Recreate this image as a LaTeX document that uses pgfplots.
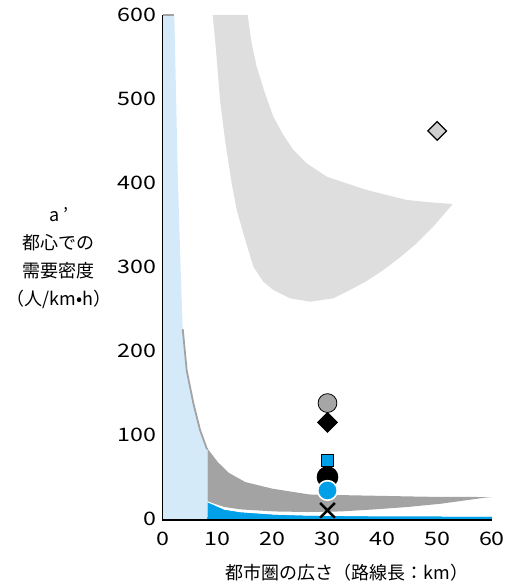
\documentclass[border=0pt]{standalone}
\usepackage{fontspec}
\setmainfont{Noto Sans CJK JP}
\newfontfamily\tickfont[FakeStretch=1.25]{Noto Sans CJK JP}
\usepackage{pgfplots}
\pgfplotsset{compat=1.18}
\definecolor{lblue}{HTML}{D4EAF9}
\definecolor{cyanb}{HTML}{00A0E9}
\definecolor{dgray}{HTML}{A3A3A3}
\definecolor{lgray}{HTML}{DEDEDE}
\definecolor{mgray}{HTML}{A6A6A6}
\definecolor{dfill}{HTML}{D0D0D0}
\begin{document}
\begin{tikzpicture}
\begin{axis}[
  at={(0pt,0pt)}, anchor=south west,
  scale only axis, width=164.5pt, height=252pt,
  xmin=0, xmax=60, ymin=0, ymax=600,
  axis x line*=bottom, axis y line*=left,
  x axis line style={line width=2pt, shorten <=-0.7pt},
  y axis line style={line width=1.4pt},
  xtick={0,10,...,60}, ytick={0,100,...,600},
  tick align=inside, major tick length=3pt,
  x tick style={draw=none},
  y tick style={black, line width=1pt},
  tick label style={font=\tickfont\fontsize{9.3}{10}\selectfont},
  xticklabel style={yshift=-3pt},
  /pgf/number format/assume math mode=true,
  clip=false,
]
% light gray upper region
\addplot[fill=lgray, draw=none] coordinates {
 (9.06,600) (9.67,558.3) (10.40,498.8) (11.31,451.2) (12.52,399.6) (13.44,367.9)
 (14.65,340.1) (16.47,300.4) (18.30,282.5) (20.12,272.6) (23.16,262.7) (26.81,258.7)
 (31.06,262.7) (34.10,272.6) (37.14,283.3) (40.18,296.4) (43.22,311.5) (46.26,328.2)
 (49.30,348.0) (52.83,375.0)
 (48.70,377.0) (44.44,379.8) (40.79,385.7) (37.14,391.7) (33.50,399.6) (29.85,407.5)
 (26.20,423.4) (23.77,439.3) (21.95,457.1) (20.12,479.0) (18.60,506.8) (17.08,538.5)
 (16.17,566.3) (15.44,600)
} -- cycle;
% light blue region
\addplot[fill=lblue, draw=none] coordinates {
 (0,0) (0,600) (2.07,600) (2.68,413) (3.2,300) (3.6,226) (4.32,177) (5.53,138)
 (6.75,106) (7.97,84) (8.15,83) (8.15,0)
} -- cycle;
\addplot[dgray, line width=0.9pt] coordinates {(0,600) (2.07,600)};
\addplot[dgray, line width=0.9pt] coordinates {
 (3.6,226) (4.32,177) (5.53,138) (6.75,106) (7.97,84) (8.15,83)};
% dark gray band
\addplot[fill=dgray, draw=none] coordinates {
 (8.15,83.5) (10,67.7) (12,55) (15,44) (20,36) (26.7,29.2) (36,28) (48,26.5) (60,26.1)
 (58.6,25.3) (50.7,18.2) (44.6,14.3) (38.5,11.4) (32.4,9) (26.3,8.3) (20.3,9)
 (14.2,11.4) (11.2,14.3) (8.15,20.8)
} -- cycle;
% blue region
\addplot[fill=cyanb, draw=none] coordinates {
 (8.15,0) (8.15,20.2) (11.2,11.4) (14.2,8.3) (20.3,5.5) (26.3,4.3) (38.5,3.5) (60,3.1) (60,0)
} -- cycle;
\addplot[white, line width=0.5pt] coordinates {
 (8.15,20.5) (11.2,11.7) (14.2,8.6) (20.3,5.8) (26.3,4.6) (38.5,3.8) (60,3.4)};
% markers
\addplot[only marks, mark=*, mark size=4.7pt, mark options={fill=mgray, draw=none}]
 coordinates {(30,138)};
\addplot[only marks, mark=square*, mark size=3.5pt, mark options={fill=black, draw=none, rotate=45}]
 coordinates {(30,115)};
\addplot[only marks, mark=square*, mark size=2.9pt, mark options={fill=cyanb, draw=none}]
 coordinates {(30,69.6)};
\addplot[only marks, mark=*, mark size=5.2pt, mark options={fill=black, draw=none}]
 coordinates {(30,49.9)};
\addplot[only marks, mark=*, mark size=4.9pt, mark options={fill=cyanb, draw=white, line width=0.8pt}]
 coordinates {(30,34)};
\addplot[only marks, mark=x, mark size=5.2pt, mark options={draw=black, line width=1.2pt}]
 coordinates {(30,10.2)};
\addplot[only marks, mark=square*, mark size=3.3pt, mark options={fill=dfill, draw=black, line width=0.6pt, rotate=45}]
 coordinates {(50,462)};
\end{axis}
\node[align=center, font=\fontsize{9}{14}\selectfont] at (-52pt,130.5pt)
 {a\,’\\都心での\\需要密度\\（人/km•h）};
\node[font=\fontsize{9}{10}\selectfont] at (92pt,-27pt) {都市圏の広さ（路線長：km）};
\pgfresetboundingbox
\path[use as bounding box] (-81.5pt,-34pt) rectangle (172pt,259.5pt);
\end{tikzpicture}
\end{document}
